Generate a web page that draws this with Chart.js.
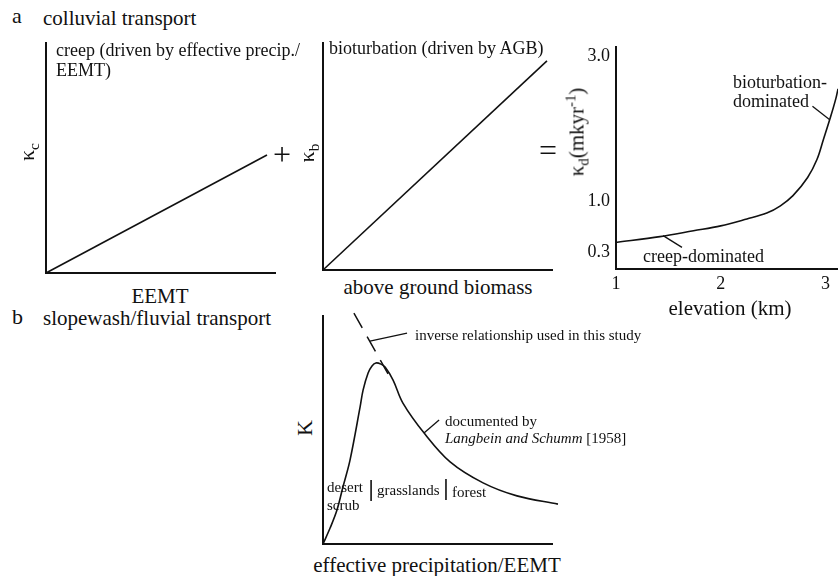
<!DOCTYPE html>
<html>
<head>
<meta charset="utf-8">
<title>Transport coefficients</title>
<script src="https://cdn.jsdelivr.net/npm/chart.js@4.4.1/dist/chart.umd.min.js"></script>
<style>
  body { margin: 0; background: #fff; }
  #fig { position: relative; width: 838px; height: 576px; overflow: hidden;
         font-family: "Liberation Serif", "Times New Roman", serif; color: #111; }
  #fig canvas { position: absolute; }
  .lbl { position: absolute; white-space: nowrap; line-height: 1; }
  .lbl sub, .lbl sup { font-size: 70%; line-height: 0; }
</style>
</head>
<body>
<div id="fig"></div>
<script>
// creep coefficient vs EEMT (arbitrary units)
const creepX = [0, 96.5];
const creepK = [0, 51.3];

// bioturbation coefficient vs above ground biomass (arbitrary units)
const bioX = [0, 97.8];
const bioK = [0, 92.1];

// combined diffusivity vs elevation
const elevKm = [1.00, 1.42, 1.74, 2.00, 2.25, 2.44, 2.57, 2.69, 2.83, 2.92, 2.98, 3.05, 3.10, 3.12];
const kappaD = [0.435, 0.516, 0.597, 0.664, 0.759, 0.840, 0.940, 1.080, 1.330, 1.581, 1.850, 2.170, 2.420, 2.551];
const elevTicks = [1, 2, 3];
const kappaTicks = [0.3, 1.0, 3.0];
const creepLeadX = [1.45, 1.63], creepLeadK = [0.53, 0.368];
const bioLeadX = [2.876, 3.038], bioLeadK = [2.31, 2.13];

// Langbein & Schumm erodibility vs effective precipitation (arbitrary units)
const precipX = [0, 3.1, 6.1, 8.7, 11.8, 16.2, 17.5, 19.7, 21.4, 23.1, 25.3, 27.1, 30.6, 34.9, 44.5, 55.5, 69.9, 84.7, 102.6];
const erodK   = [0, 7.0, 14.9, 25.0, 36.8, 60.1, 67.5, 75.0, 78.1, 79.4, 78.9, 77.6, 71.9, 61.8, 48.2, 36.0, 26.8, 21.1, 17.5];
const inverseX = [13.5, 28.4], inverseK = [101.3, 74.6];
const invLeadX = [20.5, 36.7], invLeadK = [89.0, 92.5];
const lsLeadX = [44.1, 50.7], lsLeadK = [48.7, 54.4];
const scrubDivX = [21.0, 21.0], scrubDivK = [28.1, 18.9];
const forestDivX = [53.7, 53.7], forestDivK = [28.5, 19.3];

const INK = '#111';
const fig = document.getElementById('fig');

function pts(xs, ys) {
  return xs.map((x, i) => ({ x: x, y: ys[i] }));
}

function line(xs, ys, extra) {
  return Object.assign({
    data: pts(xs, ys), showLine: true, pointRadius: 0, borderColor: INK,
    borderWidth: 1.6, clip: false, tension: 0
  }, extra || {});
}

// one chart per panel; area = plot box in page pixels, pad = room around it
function panel(area, pad, xs, ys, datasets) {
  const yw = ys.fit || 0, xh = xs.fit || 0;
  const left = area.l - yw - pad.l, top = area.t - pad.t;
  const w = (area.r - area.l) + yw + pad.l + pad.r;
  const h = (area.b - area.t) + xh + pad.t + pad.b;
  const cv = document.createElement('canvas');
  cv.width = w; cv.height = h;
  cv.style.left = left + 'px'; cv.style.top = top + 'px';
  fig.appendChild(cv);

  const axis = (s, horiz) => ({
    type: 'linear', min: s.min, max: s.max,
    grid: { display: false, drawTicks: false },
    border: { display: true, color: INK, width: 2 },
    ticks: s.ticks ? {
      display: true, color: INK, padding: s.pad,
      font: { family: '"Liberation Serif", serif', size: 18 },
      callback: s.fmt
    } : { display: false },
    afterBuildTicks: s.ticks ? sc => { sc.ticks = s.ticks.map(v => ({ value: v })); } : undefined,
    afterFit: sc => { if (horiz) sc.height = xh; else sc.width = yw; }
  });

  return new Chart(cv, {
    type: 'scatter',
    data: { datasets: datasets },
    options: {
      animation: false, responsive: false, events: [],
      layout: { padding: { left: pad.l, right: pad.r, top: pad.t, bottom: pad.b }, autoPadding: false },
      plugins: { legend: { display: false }, tooltip: { enabled: false } },
      scales: { x: axis(xs, true), y: axis(ys, false) }
    }
  });
}

function label(html, x, y, size, opts) {
  opts = opts || {};
  const d = document.createElement('div');
  d.className = 'lbl';
  d.innerHTML = html;
  d.style.fontSize = size + 'px';
  if (opts.lh) d.style.lineHeight = opts.lh + 'px';
  d.style.left = x + 'px';
  d.style.top = y + 'px';
  const ax = opts.left ? '0' : '-50%';
  d.style.transform = 'translate(' + ax + ',-50%)' + (opts.rot ? ' rotate(' + opts.rot + 'deg)' : '');
  fig.appendChild(d);
}

// a: creep
panel({ l: 46, r: 275, t: 43, b: 273 }, { l: 4, r: 4, t: 4, b: 4 },
  { min: 0, max: 100 }, { min: 0, max: 100 },
  [line(creepX, creepK)]);

// a: bioturbation
panel({ l: 323, r: 552, t: 43, b: 270 }, { l: 4, r: 4, t: 4, b: 4 },
  { min: 0, max: 100 }, { min: 0, max: 100 },
  [line(bioX, bioK)]);

// a: combined diffusivity (top pad must exceed half a tick label)
panel({ l: 616, r: 838, t: 42, b: 269 }, { l: 0, r: 0, t: 12, b: 0 },
  { min: 1, max: 3.12, ticks: elevTicks, pad: 4, fit: 32, fmt: v => String(v) },
  { min: 0.07, max: 3.13, ticks: kappaTicks, pad: 6, fit: 40, fmt: v => v.toFixed(1) },
  [
    line(elevKm, kappaD, { tension: 0.35 }),
    line(creepLeadX, creepLeadK, { borderWidth: 1.3 }),
    line(bioLeadX, bioLeadK, { borderWidth: 1.3 })
  ]);

// b: slopewash / fluvial
panel({ l: 323, r: 552, t: 316, b: 544 }, { l: 4, r: 12, t: 8, b: 4 },
  { min: 0, max: 100 }, { min: 0, max: 100 },
  [
    line(precipX, erodK, { tension: 0.35 }),
    line(inverseX, inverseK, { borderDash: [17, 10], borderWidth: 1.5 }),
    line(invLeadX, invLeadK, { borderWidth: 1.3 }),
    line(lsLeadX, lsLeadK, { borderWidth: 1.3 }),
    line(scrubDivX, scrubDivK, { borderWidth: 1.6 }),
    line(forestDivX, forestDivK, { borderWidth: 1.6 })
  ]);

// headings
label('a', 12, 16, 22, { left: true });
label('colluvial transport', 43, 18, 21, { left: true });
label('b', 12, 317, 22, { left: true });
label('slopewash/fluvial transport', 43, 318, 21, { left: true });

// panel a text
label('creep (driven by effective precip./<br>EEMT)', 56, 60, 18, { left: true, lh: 20 });
label('bioturbation (driven by AGB)', 329, 48, 18, { left: true });
label('&kappa;<sub>c</sub>', 27, 152, 22, { rot: -90 });
label('&kappa;<sub>b</sub>', 307, 153, 22, { rot: -90 });
label('+', 282, 154, 32);
label('=', 548, 150, 32);
label('EEMT', 160, 296, 21);
label('above ground biomass', 438, 287, 21);
label('&kappa;<sub>d</sub>(mkyr<sup>-1</sup>)', 577, 132, 21, { rot: -90 });
label('elevation (km)', 730, 308, 21);
label('bioturbation-<br>dominated', 733, 92, 18, { left: true, lh: 19 });
label('creep-dominated', 643, 256, 18, { left: true });

// panel b text
label('K', 305, 428, 22, { rot: -90 });
label('inverse relationship used in this study', 415, 335, 15, { left: true });
label('documented by<br><i>Langbein and Schumm</i> [1958]', 445, 430, 15, { left: true, lh: 17 });
label('desert<br>scrub', 327, 496, 15, { left: true, lh: 18 });
label('grasslands', 377, 490, 15, { left: true });
label('forest', 452, 492, 15, { left: true });
label('effective precipitation/EEMT', 437, 565, 21);
</script>
</body>
</html>
